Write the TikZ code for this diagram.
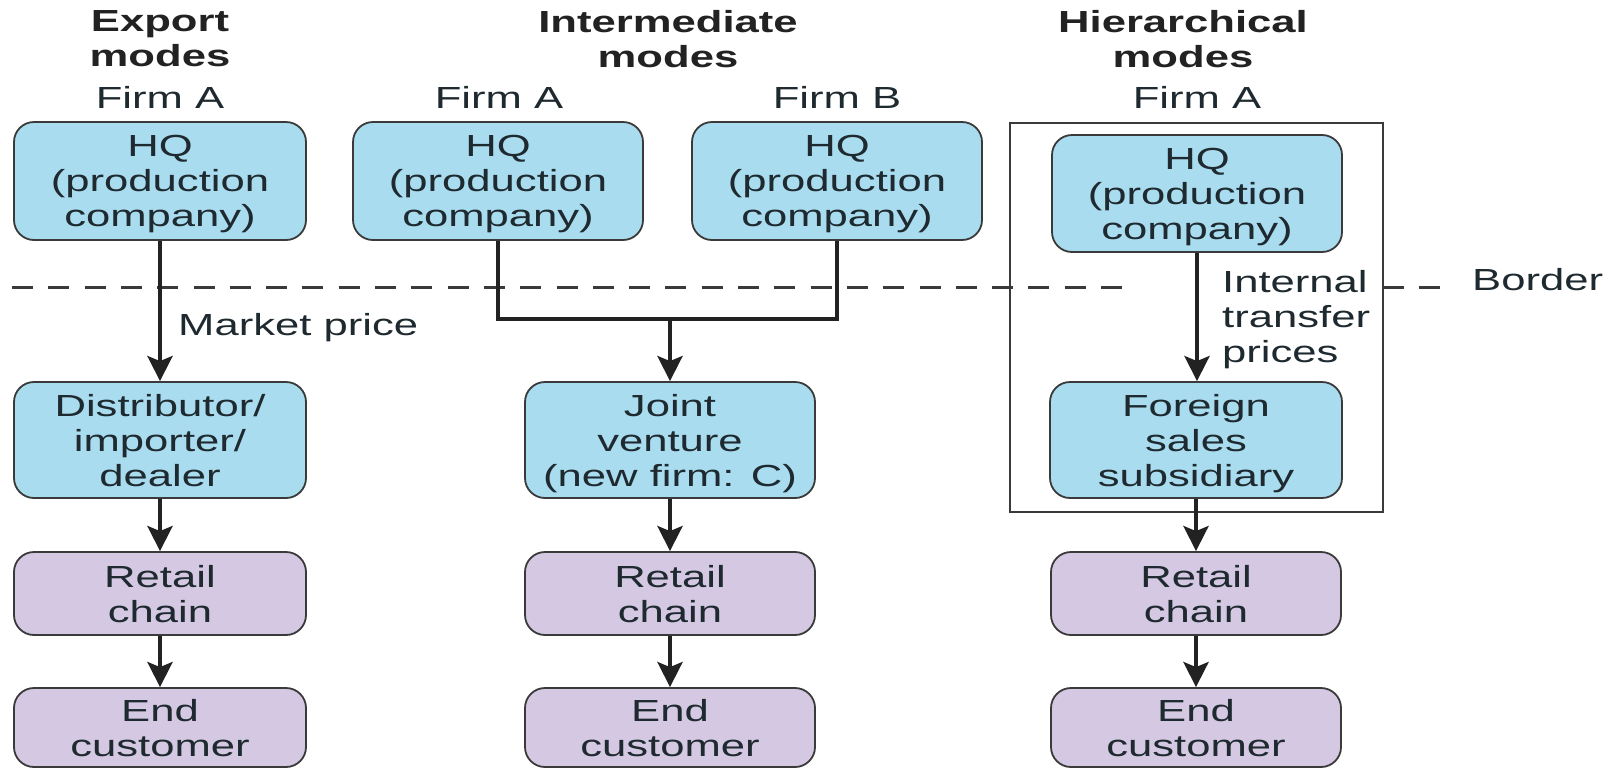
\documentclass[tikz,border=0pt]{standalone}
\usepackage{fontspec}
\setmainfont{Liberation Sans}[FakeStretch=1.43]
\usetikzlibrary{arrows.meta}
\definecolor{boxblue}{HTML}{A9DCEF}
\definecolor{boxpurple}{HTML}{D5C8E2}
\definecolor{edgegray}{HTML}{3A3A3A}
\definecolor{txt}{HTML}{1E2A30}
\definecolor{ink}{HTML}{222222}
\newcommand{\dgfont}{\fontsize{30.5}{35}\selectfont}
\tikzset{
  basebox/.style={draw=edgegray, line width=1.8pt, rounded corners=20pt, align=center,
    text=txt, font=\dgfont, inner sep=0pt, minimum width=290pt, text depth=0pt},
  bluebox/.style={basebox, fill=boxblue, minimum height=117pt},
  purplebox/.style={basebox, fill=boxpurple},
  conn/.style={line width=4.5pt, draw=ink},
  arr/.style={conn, -{Stealth[length=25pt,width=25pt,inset=5pt]}},
  lbl/.style={font=\dgfont, text=txt, inner sep=0pt},
  ttl/.style={font=\dgfont\bfseries, text=ink, inner sep=0pt, align=center, anchor=north},
  frame/.style={draw=edgegray, line width=1.8pt, inner sep=0pt},
  borderline/.style={draw=edgegray, line width=3pt, dash pattern=on 21pt off 15.3pt},
}
\begin{document}
\begin{tikzpicture}[x=1pt, y=-1pt]
\useasboundingbox (0,0) rectangle (1611,769);

% titles
\node[ttl] (t1) at (160,10) {Export\\modes};
\node[ttl] (t2) at (668,10) {Intermediate\\modes};
\node[ttl] (t3) at (1183,10) {Hierarchical\\modes};
\node[lbl, anchor=base] (f1) at (160,108) {Firm A};
\node[lbl, anchor=base] (f2) at (499,108) {Firm A};
\node[lbl, anchor=base] (f3) at (837,108) {Firm B};
\node[lbl, anchor=base] (f4) at (1197,108) {Firm A};

% frame of the hierarchical mode
\node[frame, minimum width=373pt, minimum height=389pt] (hier) at (1196.5,317.5) {};

% border line
\coordinate (bl0) at (12,287);
\coordinate (bl1) at (1122,287);
\coordinate (br0) at (1383,287);
\coordinate (br1) at (1442,287);
\draw[borderline] (bl0) -- (bl1);
\draw[borderline] (br0) -- (br1);
\node[lbl, anchor=base west] (border) at (1472,290) {Border};

% export column
\node[bluebox, minimum width=292pt, minimum height=118pt] (e1) at (160,181) {HQ\\(production\\company)};
\node[bluebox, minimum width=292pt, minimum height=116pt] (e2) at (160,440) {Distributor/\\importer/\\dealer};
\node[purplebox, minimum width=292pt, minimum height=83pt] (e3) at (160,593.5) {Retail\\chain};
\node[purplebox, minimum width=292pt, minimum height=79pt] (e4) at (160,727.5) {End\\customer};

% intermediate column
\node[bluebox, minimum height=118pt] (a1) at (498,181) {HQ\\(production\\company)};
\node[bluebox, minimum height=118pt] (b1) at (837,181) {HQ\\(production\\company)};
\node[bluebox, minimum height=116pt] (i2) at (670,440) {Joint\\venture\\(new firm: C)};
\node[purplebox, minimum height=83pt] (i3) at (670,593.5) {Retail\\chain};
\node[purplebox, minimum height=79pt] (i4) at (670,727.5) {End\\customer};

% hierarchical column
\node[bluebox, minimum height=117pt] (h1) at (1197,193.5) {HQ\\(production\\company)};
\node[bluebox, minimum width=292pt, minimum height=116pt] (h2) at (1196,440) {Foreign\\sales\\subsidiary};
\node[purplebox, minimum height=83pt] (h3) at (1196,593.5) {Retail\\chain};
\node[purplebox, minimum height=79pt] (h4) at (1196,727.5) {End\\customer};

% labels
\node[lbl, anchor=base west] (mp) at (178,335) {Market price};
\node[lbl, anchor=north west, align=left] (itp) at (1222,270) {Internal\\transfer\\prices};

% connectors
\draw[arr] (e1.south) -- (e2.north);
\draw[arr] (e2.south) -- (e3.north);
\draw[arr] (e3.south) -- (e4.north);

\coordinate (jl) at (498,319);
\coordinate (jr) at (837,319);
\coordinate (jm) at (670,319);
\draw[conn, line join=miter] (a1.south) -- (jl) -- (jr) -- (b1.south);
\draw[arr] (jm) -- (i2.north);
\draw[arr] (i2.south) -- (i3.north);
\draw[arr] (i3.south) -- (i4.north);

\draw[arr] (h1.south) -- (h1.south |- h2.north);
\draw[arr] (h2.south) -- (h3.north);
\draw[arr] (h3.south) -- (h4.north);
\end{tikzpicture}
\end{document}
